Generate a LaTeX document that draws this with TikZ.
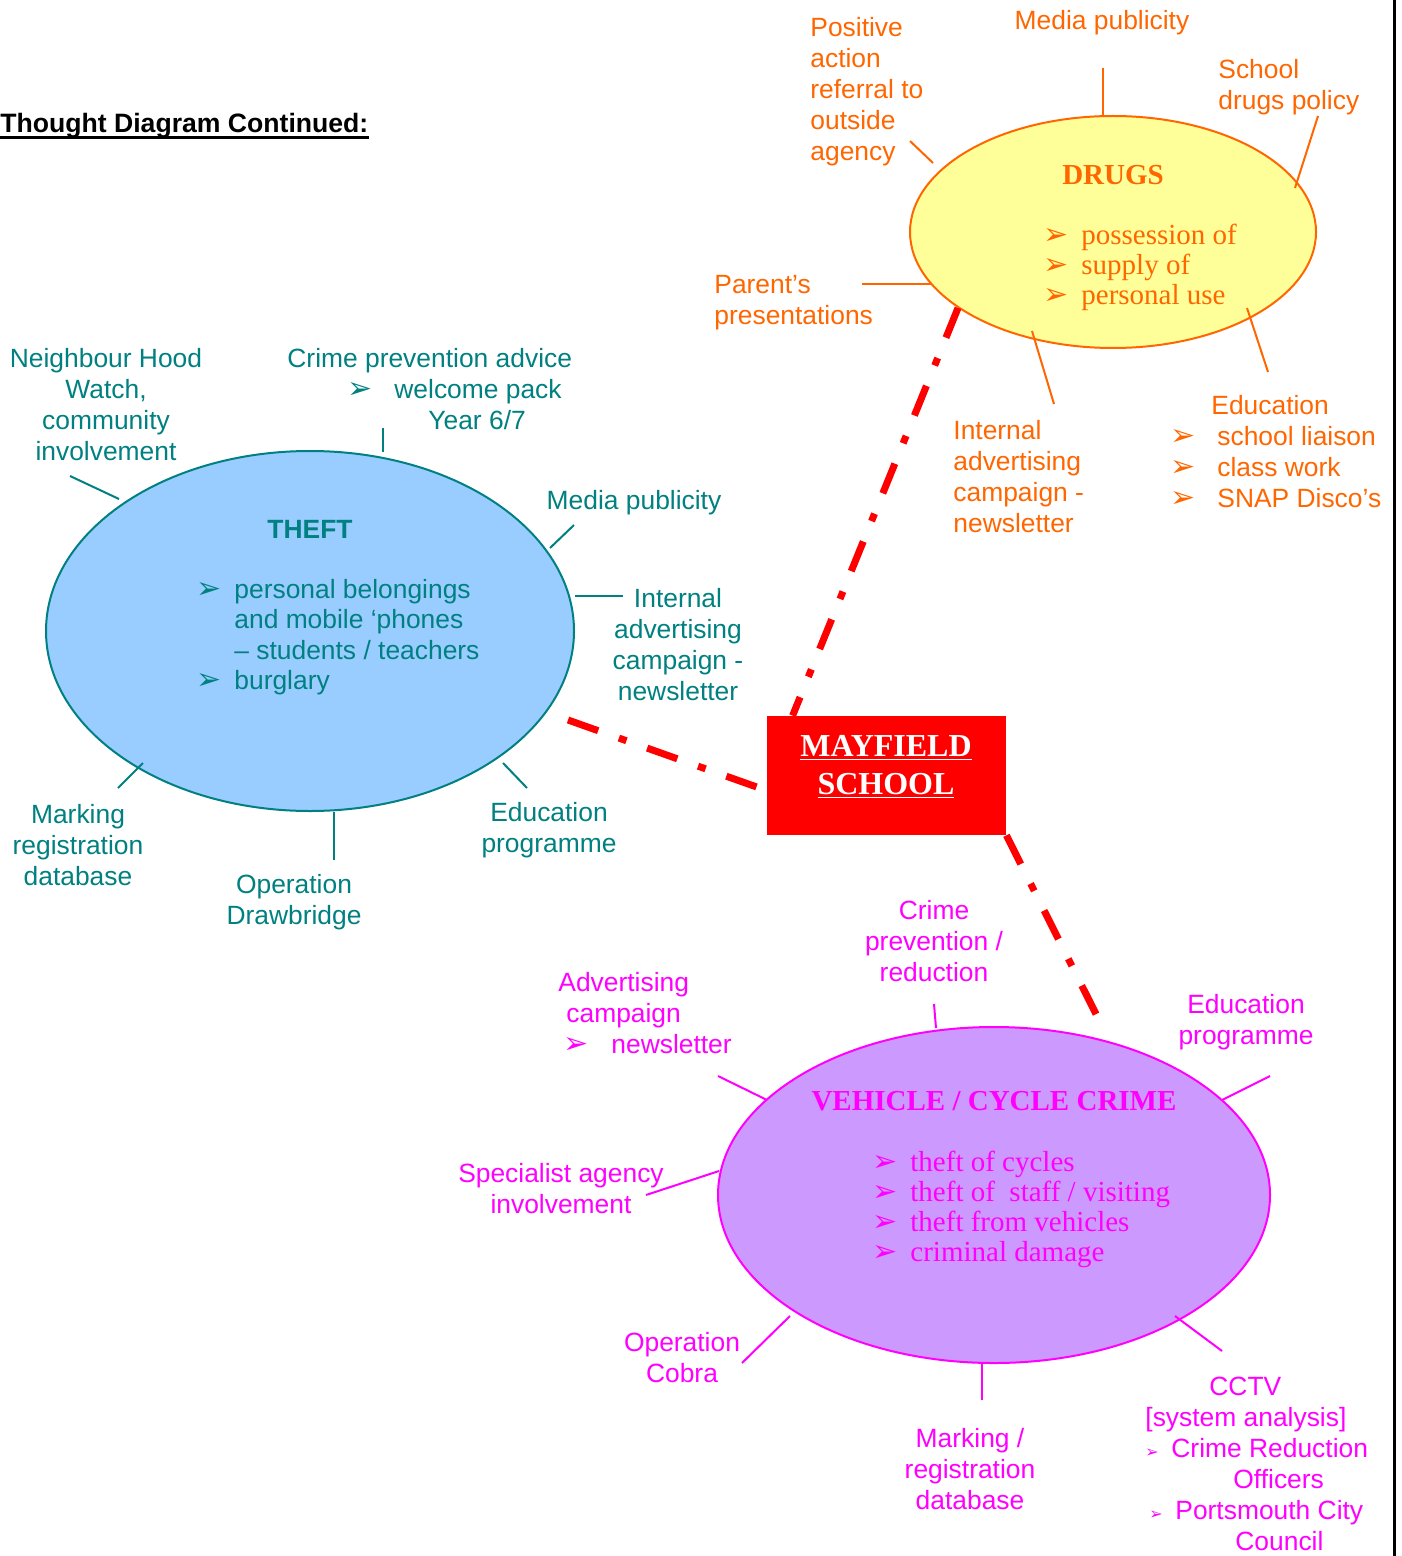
\documentclass[tikz,border=0pt]{standalone}
\usepackage{fontspec}
\setmainfont{Liberation Serif}
\setsansfont{Liberation Sans}
\newfontfamily\arrowfont{DejaVu Sans}
\usetikzlibrary{shapes.geometric,calc}

\definecolor{drugorange}{HTML}{FF6600}
\definecolor{drugfill}{HTML}{FFFF99}
\definecolor{theftteal}{HTML}{008080}
\definecolor{theftfill}{HTML}{99CCFF}
\definecolor{carpink}{HTML}{FF00FF}
\definecolor{carfill}{HTML}{CC99FF}

% arrow bullet, box width = gap from bullet to text
\newcommand{\bul}[1][19pt]{\makebox[#1][l]{\arrowfont\fontsize{15}{15}\selectfont ➢}}
\newcommand{\smallbul}[1][13pt]{\makebox[#1][l]{\arrowfont\fontsize{8}{8}\selectfont ➢}}

\begin{document}
\begin{tikzpicture}[x=0.5pt,y=-0.5pt,
    sanslbl/.style={font=\sffamily\fontsize{13.2}{15.5}\selectfont, inner sep=0pt, align=center},
    leftlbl/.style={sanslbl, align=left, anchor=west},
    seriflist/.style={font=\rmfamily\fontsize{14.5}{15}\selectfont, inner sep=0pt, align=left, anchor=west},
    seriftitle/.style={font=\rmfamily\bfseries\fontsize{14.5}{15}\selectfont, inner sep=0pt},
    bubble/.style={ellipse, draw, line width=1pt, inner sep=0pt},
    spoke/.style={line width=1pt},
    link/.style={red, line width=3.5pt, dash pattern=on 16pt off 11pt on 4pt off 11pt}]

    \useasboundingbox (0,0) rectangle (1401,1556);

    % Page edge on the right
    \draw[line width=1.5pt] (1394,0) -- (1394,1556);

    % Heading
    \node[sanslbl, anchor=west, font=\sffamily\bfseries\fontsize{13.3}{15.5}\selectfont] (heading) at (0,126) {Thought Diagram Continued:};
    \draw[line width=1.5pt] ($(heading.base west)+(0,5)$) -- ($(heading.base east)+(0,5)$);

    % Bubbles
    \node[bubble, drugorange, fill=drugfill, minimum width=203pt, minimum height=116pt] (drugs) at (1113,232) {};
    \node[bubble, theftteal, fill=theftfill, minimum width=264pt, minimum height=180pt] (theft) at (310,631) {};
    \node[bubble, carpink, fill=carfill, minimum width=276pt, minimum height=168pt] (vehicle) at (994,1195) {};

    % School box
    \node[fill=red, inner sep=0pt, minimum width=119.5pt, minimum height=59.5pt] (school) at (886.5,775.5) {};
    \node[white, font=\rmfamily\bfseries\fontsize{16}{19}\selectfont, align=center, inner sep=0pt] (schoolname) at (886,767) {\underline{MAYFIELD}\\\underline{SCHOOL}};

    % Links to the school
    \draw[link] ($(drugs.center)+(-155,76)$) -- ($(school.north west)+(26,0)$);
    \draw[link] ($(theft.center)+(258,89)$) -- ($(school.west)+(0,15)$);
    \draw[link] (school.south east) -- ($(vehicle.center)+(106,-173)$);

    % Drugs bubble text
    \node[seriftitle, drugorange] (drugstitle) at (1113,175) {DRUGS};
    \node[seriflist, drugorange] (druglist) at (1043,267) {\bul possession of\\\bul supply of\\\bul personal use};

    % Drugs labels
    \begin{scope}[drugorange]
    \node[leftlbl] (posact) at (810,92) {Positive\\action\\referral to\\outside\\agency};
    \node[sanslbl] (drugmedia) at (1102,23) {Media publicity};
    \node[leftlbl] (drugpolicy) at (1218,87) {School\\drugs policy};
    \node[leftlbl] (parents) at (714,303) {Parent’s\\presentations};
    \node[leftlbl] (druginternal) at (953,477) {Internal\\advertising\\campaign -\\newsletter};
    \node[leftlbl] (drugedu) at (1170,452) {\hspace*{20.5pt}Education\\\bul[23.5pt]school liaison\\\bul[23.5pt]class work\\\bul[23.5pt]SNAP Disco’s};

    \draw[spoke] ($(drugs.center)+(-180,-69)$) -- (910,141);
    \draw[spoke] ($(drugs.center)+(-10,-116)$) -- (1103,68);
    \draw[spoke] ($(drugs.center)+(182,-44)$) -- (1318,116);
    \draw[spoke] ($(drugs.center)+(-181,52)$) -- (862,284);
    \draw[spoke] ($(drugs.center)+(-81,99)$) -- (1054,404);
    \draw[spoke] ($(drugs.center)+(134,76)$) -- (1268,372);
    \end{scope}

    % Theft bubble text
    \node[sanslbl, theftteal, font=\sffamily\bfseries\fontsize{13.2}{15.5}\selectfont] (thefttitle) at (310,529) {THEFT};
    \node[leftlbl, theftteal, font=\sffamily\fontsize{13.2}{15.2}\selectfont] (theftlist) at (196,637) {\bul personal belongings\\\hspace*{19pt}and mobile ‘phones\\\hspace*{19pt}– students / teachers\\\bul burglary};

    % Theft labels
    \begin{scope}[theftteal]
    \node[sanslbl] (nhw) at (106,405) {Neighbour Hood\\Watch,\\community\\involvement};
    \node[leftlbl] (crimeadv) at (287,389) {Crime prevention advice\\\hspace*{30pt}\bul[23.5pt]welcome pack\\\hspace*{70.5pt}Year 6/7};
    \node[sanslbl] (theftmedia) at (634,503) {Media publicity};
    \node[sanslbl] (theftinternal) at (678,645) {Internal\\advertising\\campaign -\\newsletter};
    \node[sanslbl] (theftedu) at (549,830) {Education\\programme};
    \node[sanslbl] (drawbridge) at (294,902) {Operation\\Drawbridge};
    \node[sanslbl] (theftmarking) at (78,845) {Marking\\registration\\database};

    \draw[spoke] ($(theft.center)+(-191,-132)$) -- (70,476);
    \draw[spoke] ($(theft.center)+(73,-179)$) -- (383,428);
    \draw[spoke] ($(theft.center)+(240,-83)$) -- (574,525);
    \draw[spoke] ($(theft.center)+(265,-35)$) -- (623,596);
    \draw[spoke] ($(theft.center)+(193,132)$) -- (527,788);
    \draw[spoke] ($(theft.center)+(24,181)$) -- (334,860);
    \draw[spoke] ($(theft.center)+(-167,132)$) -- (118,788);
    \end{scope}

    % Vehicle bubble text
    \node[seriftitle, carpink] (cartitle) at (994,1101) {VEHICLE / CYCLE CRIME};
    \node[seriflist, carpink] (carlist) at (872,1209) {\bul theft of cycles\\\bul theft of~ staff / visiting\\\bul theft from vehicles\\\bul criminal damage};

    % Vehicle labels
    \begin{scope}[carpink]
    \node[sanslbl] (carcrime) at (934,941) {Crime\\prevention /\\reduction};
    \node[sanslbl] (caredu) at (1246,1022) {Education\\programme};
    \node[leftlbl] (caradv) at (558,1013) {Advertising\\\hspace*{4pt}campaign\\\hspace*{2.5pt}\bul[24pt]newsletter};
    \node[sanslbl] (specialist) at (561,1189) {Specialist agency\\involvement};
    \node[sanslbl] (cobra) at (682,1358) {Operation\\Cobra};
    \node[sanslbl] (carmarking) at (970,1469) {Marking /\\registration\\database};
    \node[leftlbl] (cctv) at (1145,1464) {\hspace*{32pt}CCTV\\{[system analysis]}\\\smallbul Crime Reduction\\\hspace*{44pt}Officers\\\hspace*{2pt}\smallbul Portsmouth City\\\hspace*{45pt}Council};

    \draw[spoke] ($(vehicle.center)+(-58,-167)$) -- (934,1004);
    \draw[spoke] ($(vehicle.center)+(228,-95)$) -- (1270,1076);
    \draw[spoke] ($(vehicle.center)+(-227,-95)$) -- (718,1076);
    \draw[spoke] ($(vehicle.center)+(-275,-24)$) -- (646,1195);
    \draw[spoke] ($(vehicle.center)+(-204,121)$) -- (742,1363);
    \draw[spoke] ($(vehicle.center)+(-12,168)$) -- (982,1400);
    \draw[spoke] ($(vehicle.center)+(181,121)$) -- (1222,1351);
    \end{scope}

\end{tikzpicture}
\end{document}
